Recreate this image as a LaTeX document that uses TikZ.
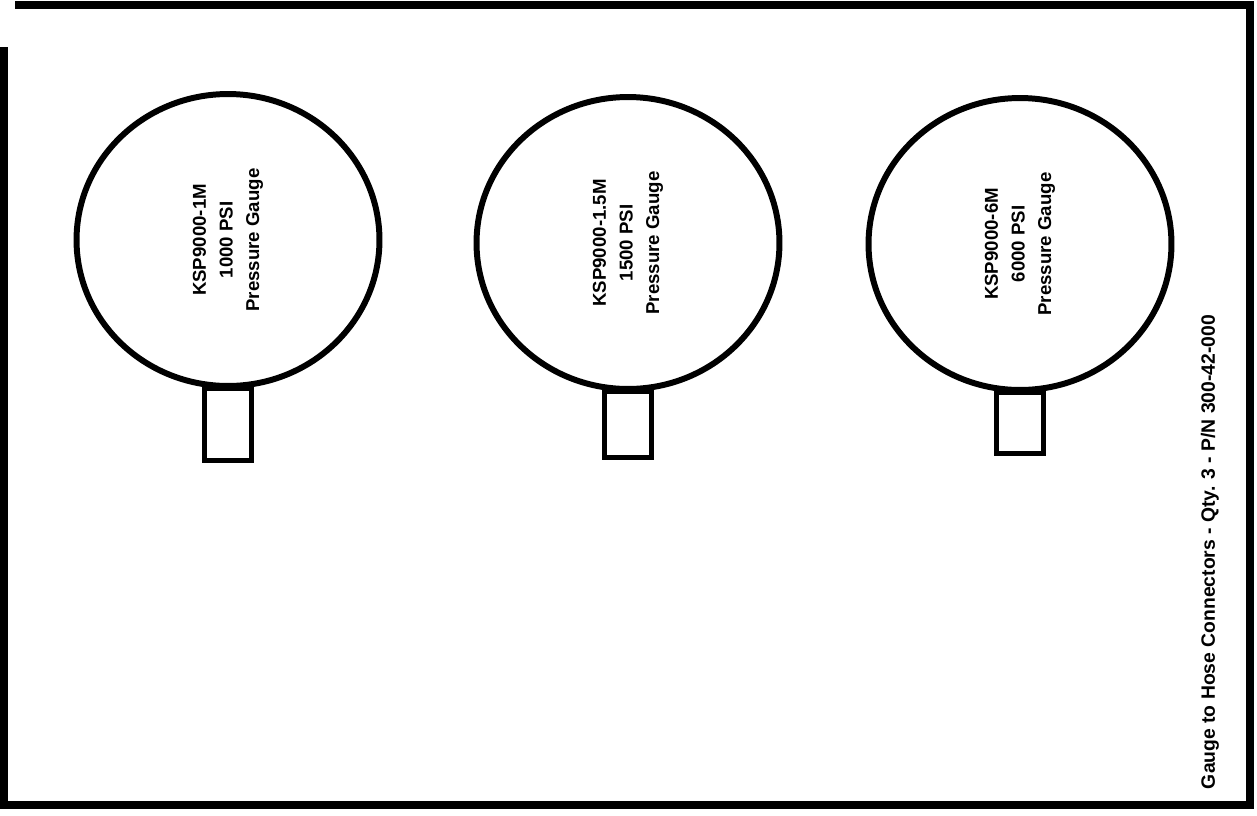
\documentclass[tikz,border=0pt]{standalone}
\usepackage{fontspec}
\setmainfont{Liberation Sans}
\usepackage{tikz}
\usetikzlibrary{shapes.geometric,positioning}

\begin{document}
\begin{tikzpicture}[x=0.02cm, y=-0.02cm,
  gauge/.style={draw, ellipse, line width=3.4pt, minimum width=6.06cm, minimum height=5.84cm, inner sep=0pt},
  stem/.style={draw, line width=2.8pt, minimum width=0.94cm, minimum height=1.45cm, inner sep=0pt},
  label/.style={rotate=90, align=center, font=\fontsize{10.6}{15.2}\selectfont\bfseries},
  frame/.style={line width=4.2pt}
]
\useasboundingbox (0,0) rectangle (1257,815);

% sheet border
\coordinate (tl) at (15,5);
\coordinate (tr) at (1250,5);
\coordinate (br) at (1250,805);
\coordinate (bl) at (0,805);
\coordinate (lt) at (4,47);
\coordinate (lb) at (4,805);
\draw[frame] (tl) -- (tr) -- (br) -- (bl);
\draw[frame] (lt) -- (lb);

% gauges
\node[gauge] (g1) at (228,240) {};
\node[gauge] (g2) at (628,243) {};
\node[gauge] (g3) at (1020,244) {};

\node[stem, below=-0.06cm of g1] (s1) {};
\node[stem, minimum height=1.32cm, below=-0.06cm of g2] (s2) {};
\node[stem, minimum height=1.22cm, below=-0.06cm of g3] (s3) {};

\node[label] (t1) at (g1.center) {KSP9000-1M\\1000 PSI\\Pressure Gauge};
\node[label] (t2) at (g2.center) {KSP9000-1.5M\\1500 PSI\\Pressure Gauge};
\node[label] (t3) at (g3.center) {KSP9000-6M\\6000 PSI\\Pressure Gauge};

% caption
\node[label, font=\fontsize{11}{14}\selectfont\bfseries] (cap) at (1210,552) {Gauge to Hose Connectors - Qty. 3 - P/N 300-42-000};
\end{tikzpicture}
\end{document}
